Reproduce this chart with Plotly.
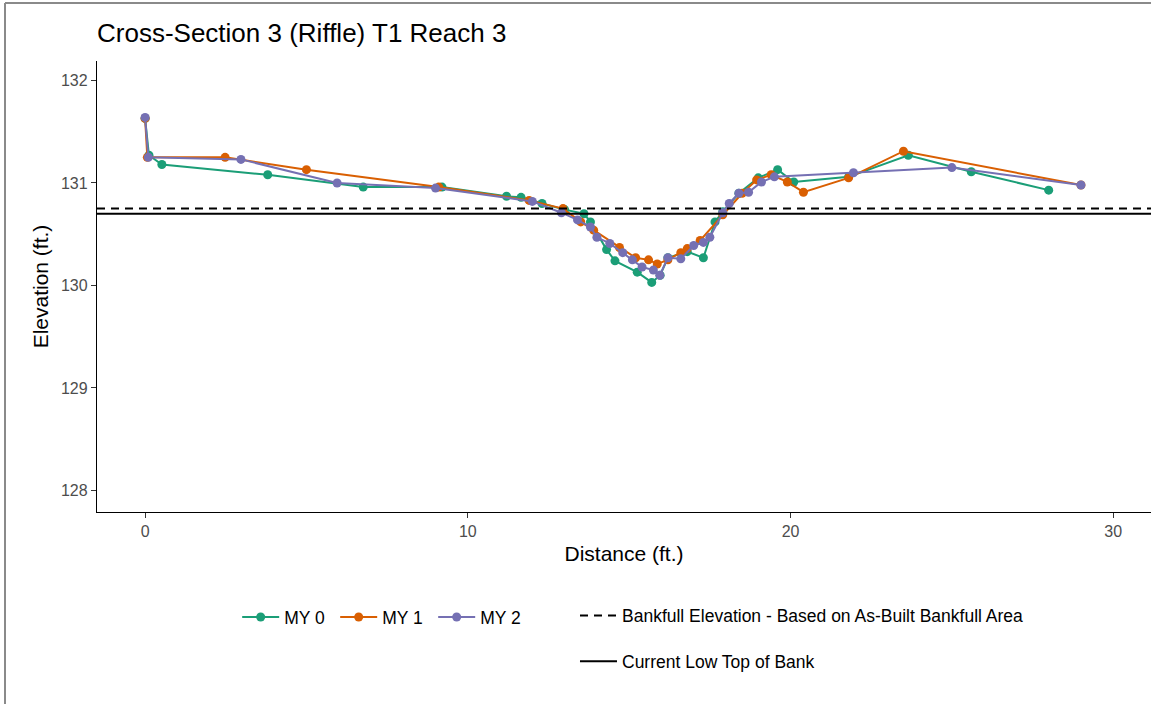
import plotly.graph_objects as go

# Surveyed cross-section stations (distance in ft, elevation in ft)
my0_dist = [0, 0.12, 0.52, 3.8, 6.76, 9.2, 11.2, 11.65, 12.3, 13.0, 13.6, 13.8, 14.3, 14.56,
            15.25, 15.7, 15.96, 16.2, 16.8, 17.3, 17.66, 17.9, 18.4, 19.0, 19.6, 20.1, 21.8,
            23.65, 25.6, 28.0]
my0_elev = [131.63, 131.27, 131.18, 131.08, 130.96, 130.96, 130.87, 130.86, 130.80, 130.74,
            130.70, 130.62, 130.35, 130.24, 130.13, 130.03, 130.10, 130.27, 130.33, 130.27,
            130.62, 130.72, 130.90, 131.05, 131.13, 131.01, 131.06, 131.27, 131.11, 130.93]

my1_dist = [0, 0.07, 2.48, 5.0, 9.1, 11.9, 12.95, 13.5, 13.9, 14.7, 15.2, 15.6, 15.87, 16.2,
            16.6, 16.8, 17.2, 17.9, 18.5, 18.95, 19.4, 19.9, 20.4, 21.8, 23.5, 29.0]
my1_elev = [131.63, 131.25, 131.25, 131.13, 130.96, 130.83, 130.75, 130.62, 130.54, 130.37,
            130.27, 130.25, 130.21, 130.25, 130.32, 130.36, 130.44, 130.69, 130.90, 131.03,
            131.08, 131.01, 130.91, 131.05, 131.31, 130.98]

my2_dist = [0, 0.1, 2.97, 5.95, 9.0, 12.0, 12.9, 13.4, 13.8, 14.0, 14.4, 14.8, 15.1, 15.4,
            15.75, 15.95, 16.2, 16.6, 17.0, 17.3, 17.5, 17.9, 18.1, 18.4, 18.7, 19.1, 19.5,
            21.95, 25.0, 29.0]
my2_elev = [131.64, 131.25, 131.23, 131.00, 130.95, 130.82, 130.71, 130.64, 130.57, 130.47,
            130.41, 130.32, 130.25, 130.18, 130.15, 130.10, 130.27, 130.26, 130.39, 130.42,
            130.47, 130.71, 130.80, 130.90, 130.91, 131.01, 131.06, 131.10, 131.15, 130.98]

bankfull_elev = 130.75
low_top_of_bank = 130.70

x_range = [-1.49, 31.17]
y_range = [127.79, 132.19]

FONT = "Liberation Sans, Arial, Helvetica, sans-serif"

series = [
    ("MY 0", my0_dist, my0_elev, "#1B9E77"),
    ("MY 1", my1_dist, my1_elev, "#D95F02"),
    ("MY 2", my2_dist, my2_elev, "#7570B3"),
]

fig = go.Figure()

for name, xs, ys, color in series:
    fig.add_trace(go.Scatter(
        x=xs, y=ys, name=name, mode="lines+markers",
        line=dict(color=color, width=2),
        marker=dict(color=color, size=9),
        legend="legend",
    ))

fig.add_trace(go.Scatter(
    x=x_range, y=[bankfull_elev, bankfull_elev], mode="lines",
    name="Bankfull Elevation - Based on As-Built Bankfull Area",
    line=dict(color="black", width=2, dash="8px,6px"),
    legend="legend2", legendgroup="bkf",
))
fig.add_trace(go.Scatter(
    x=x_range, y=[low_top_of_bank, low_top_of_bank], mode="lines",
    name="Current Low Top of Bank",
    line=dict(color="black", width=2),
    legend="legend2", legendgroup="tob",
))

axis_common = dict(
    showline=True, linecolor="black", linewidth=1.4, mirror=False,
    ticks="outside", ticklen=5, tickcolor="#333333", tickwidth=1.2,
    showgrid=False, zeroline=False,
    tickfont=dict(family=FONT, size=16, color="#4D4D4D"),
)

fig.update_layout(
    width=1151, height=704,
    paper_bgcolor="white", plot_bgcolor="white",
    margin=dict(l=97, r=0, t=61, b=192),
    font=dict(family=FONT, color="black"),
    title=dict(
        text="Cross-Section 3 (Riffle) T1 Reach 3",
        x=0, xref="paper", xanchor="left",
        y=1 - 33 / 704, yref="container", yanchor="middle",
        font=dict(family=FONT, size=26, color="black"),
    ),
    xaxis=dict(
        range=x_range, tickvals=[0, 10, 20, 30],
        title=dict(text="Distance (ft.)", font=dict(family=FONT, size=21), standoff=6),
        **axis_common,
    ),
    yaxis=dict(
        range=y_range, tickvals=[128, 129, 130, 131, 132],
        title=dict(text="Elevation (ft.)", font=dict(family=FONT, size=21), standoff=6),
        **axis_common,
    ),
    legend=dict(
        orientation="h", x=0.133, xanchor="left", y=-0.233, yanchor="middle",
        font=dict(family=FONT, size=17.5, color="black"),
        bgcolor="rgba(0,0,0,0)", itemwidth=37,
        entrywidth=46, entrywidthmode="pixels",
    ),
    legend2=dict(
        orientation="v", x=0.4535, xanchor="left", y=-0.19, yanchor="top",
        font=dict(family=FONT, size=17.5, color="black"),
        bgcolor="rgba(0,0,0,0)", tracegroupgap=20, itemwidth=37,
    ),
    shapes=[
        dict(type="line", xref="paper", yref="paper",
             x0=-92 / 1054, x1=1.0, y0=1 + 58 / 451, y1=1 + 58 / 451,
             line=dict(color="#8a8a8a", width=2)),
        dict(type="line", xref="paper", yref="paper",
             x0=-92 / 1054, x1=-92 / 1054, y0=1 + 58 / 451, y1=-192 / 451,
             line=dict(color="#8a8a8a", width=2)),
    ],
)

fig.write_html("out.html")
